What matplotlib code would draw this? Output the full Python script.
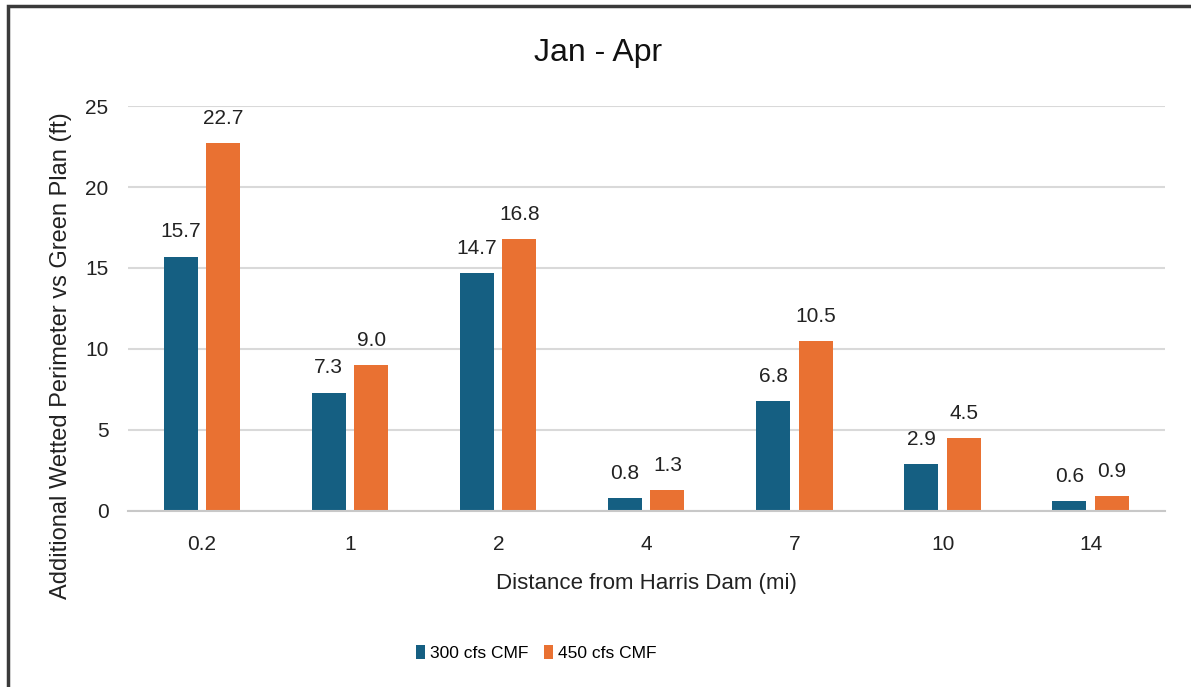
import matplotlib.pyplot as plt
import numpy as np
from matplotlib.patches import Rectangle

# 数据
distances = ["0.2", "1", "2", "4", "7", "10", "14"]
cmf_300 = [15.7, 7.3, 14.7, 0.8, 6.8, 2.9, 0.6]
cmf_450 = [22.7, 9.0, 16.8, 1.3, 10.5, 4.5, 0.9]
series_names = ["300 cfs CMF", "450 cfs CMF"]
yticks = [0, 5, 10, 15, 20, 25]

blue = "#155F82"
orange = "#E97132"

plt.rcParams["font.family"] = ["Liberation Sans", "DejaVu Sans"]

fig = plt.figure(figsize=(11.91, 6.87), dpi=100)
ax = fig.add_axes([0.1075, 0.2562, 0.8705, 0.5895])

x = np.arange(len(distances))
w = 0.23
b1 = ax.bar(x - 0.145, cmf_300, w, color=blue, label=series_names[0])
b2 = ax.bar(x + 0.142, cmf_450, w, color=orange, label=series_names[1])

# 数据标签
for bars in (b1, b2):
    ax.bar_label(bars, fmt="%.1f", padding=11, fontsize=15, color="#222222")

ax.set_xlim(-0.5, len(distances) - 0.5)
ax.set_ylim(0, 25)
ax.set_yticks(yticks)
ax.set_xticks(x)
ax.set_xticklabels(distances)
ax.tick_params(axis="both", length=0, labelsize=15, colors="#222222")
ax.tick_params(axis="x", pad=17)
ax.tick_params(axis="y", pad=14)

ax.grid(axis="y", color="#D9D9D9", linewidth=1.5)
ax.set_axisbelow(True)
for s in ["top", "right", "left"]:
    ax.spines[s].set_visible(False)
ax.spines["bottom"].set_color("#C8C8C8")
ax.spines["bottom"].set_linewidth(1.5)

# 标题居中于整张图
fig.text(0.502, 0.923, "Jan - Apr", fontsize=23, ha="center", va="center",
         color="#111111")
ax.set_xlabel("Distance from Harris Dam (mi)", fontsize=16,
              labelpad=14, color="#222222")
ax.set_ylabel("Additional Wetted Perimeter vs Green Plan (ft)", fontsize=17,
              color="#222222")
ax.yaxis.set_label_coords(-0.054, 0.383)

fig.legend(loc="center", bbox_to_anchor=(0.45, 0.05), ncol=2, frameon=False,
           prop={"size": 12.5}, handlelength=0.55, handleheight=0.85,
           handletextpad=0.25, columnspacing=0.9)

# 外框
fig.patches.append(Rectangle((0.0067, -0.5), 1.5, 1.4913, transform=fig.transFigure,
                             fill=False, edgecolor="#3A3A3A", linewidth=2.5,
                             clip_on=False))

fig.savefig("out.png", dpi=100)
